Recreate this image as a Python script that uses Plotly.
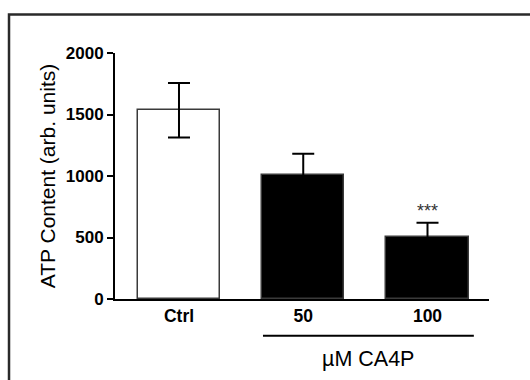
import plotly.graph_objects as go

categories = ["Ctrl", "50", "100"]
atp_mean = [1535, 1008, 505]
atp_err = [222, 173, 114]
bar_colors = ["white", "black", "black"]
y_ticks = [0, 500, 1000, 1500, 2000]
group_label = "µM CA4P"
signif_label = "***"
y_title = "ATP Content (arb. units)"

FONT = "Arial, Liberation Sans, sans-serif"
xpos = list(range(len(categories)))

fig = go.Figure()
fig.add_trace(go.Bar(
    x=xpos, y=atp_mean, width=0.662,
    marker=dict(color=bar_colors, line=dict(color="#3a3a3a", width=1.5)),
    error_y=dict(type="data", array=atp_err, visible=True,
                 color="#000000", thickness=2, width=11),
    showlegend=False,
))

fig.add_annotation(x=2, y=atp_mean[2] + atp_err[2], xref="x", yref="y",
                   text=signif_label, showarrow=False, yanchor="bottom",
                   yshift=0, font=dict(family=FONT, size=18, color="#333333"))

fig.add_annotation(x=(0.676 + 2.373) / 2, y=-0.243, xref="x", yref="paper",
                   text=group_label, showarrow=False, yanchor="middle",
                   font=dict(family=FONT, size=21.5, color="black"))

fig.add_shape(type="line", xref="x", yref="paper", x0=0.676, x1=2.373,
              y0=-0.149, y1=-0.149, line=dict(color="black", width=2))

fig.add_shape(type="rect", xref="paper", yref="paper",
              x0=-0.2834, x1=1.136, y0=-0.408, y1=1.157,
              line=dict(color="#2a2a2a", width=2.5), layer="above")

fig.update_layout(
    width=530, height=380,
    margin=dict(l=115, r=41, t=53, b=81, autoexpand=False),
    paper_bgcolor="white", plot_bgcolor="white",
    font=dict(family=FONT, color="black"),
    bargap=0,
    xaxis=dict(range=[-0.515, 2.495], tickmode="array", tickvals=xpos,
               ticktext=categories, showline=True, linecolor="black",
               linewidth=2, ticks="", showgrid=False, zeroline=False,
               tickfont=dict(family=FONT, size=17.5, color="black", weight="bold"),
               fixedrange=True),
    yaxis=dict(range=[0, 2000], tickmode="array", tickvals=y_ticks,
               showline=True, linecolor="black", linewidth=2,
               ticks="outside", ticklen=6, tickwidth=2, tickcolor="black",
               showgrid=False, zeroline=False,
               tickfont=dict(family=FONT, size=17, color="black", weight="bold"),
               title=dict(text=y_title, font=dict(family=FONT, size=21, color="black"),
                          standoff=4),
               automargin=False),
)

fig.write_html("out.html")
